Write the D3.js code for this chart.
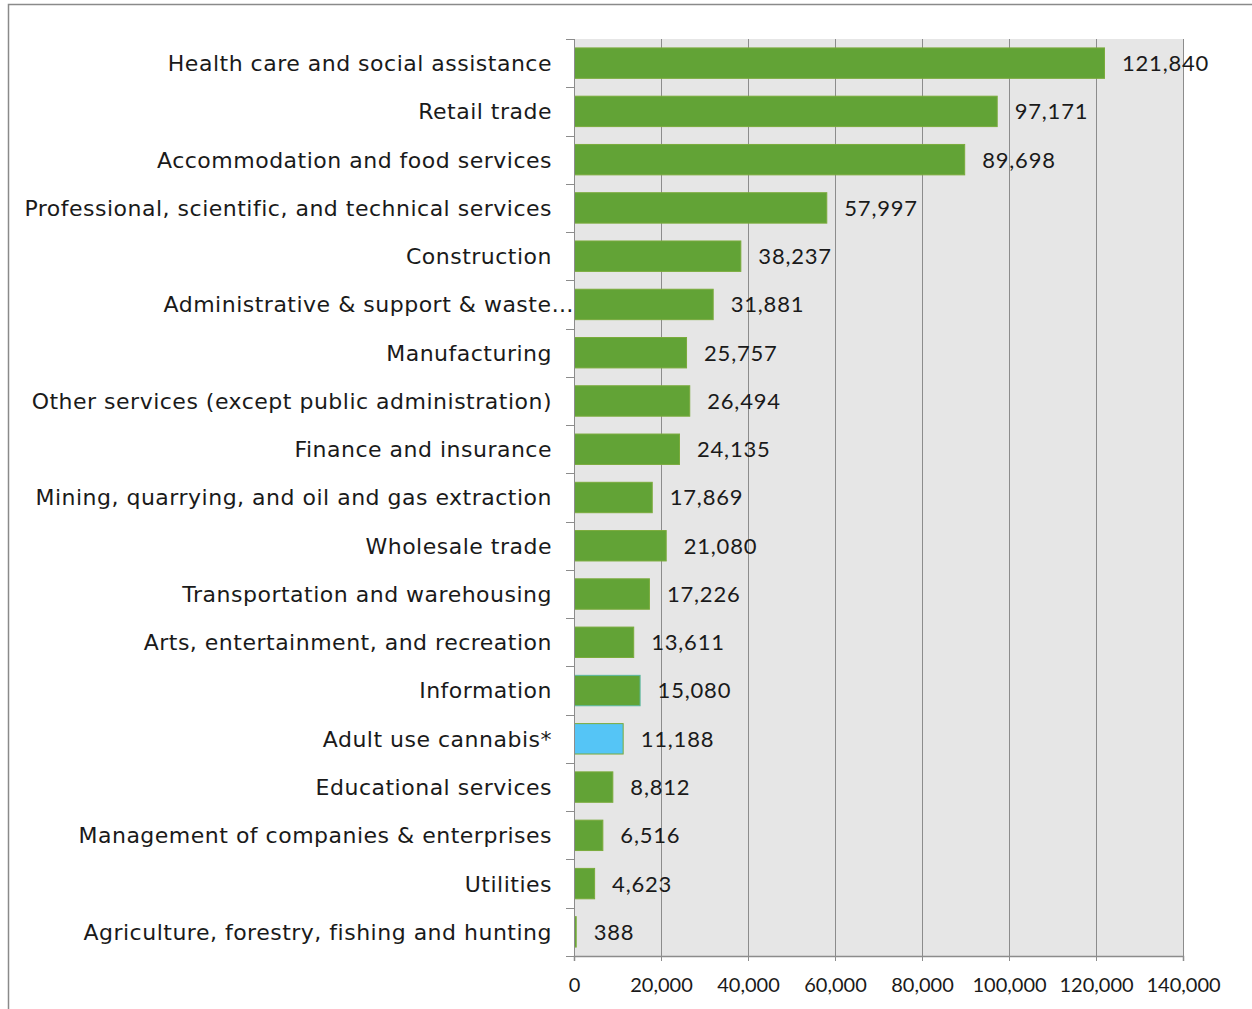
<!DOCTYPE html>
<html>
<head>
<meta charset="utf-8">
<script src="https://cdn.jsdelivr.net/npm/d3@7"></script>
<style>
  body { margin: 0; background: #fff; }
  svg text { font-family: "Lato", "DejaVu Sans", sans-serif; fill: #1a1a1a; }
  svg text.cat { font-family: "DejaVu Sans", sans-serif; }
</style>
</head>
<body>
<div id="chart"></div>
<script>
// frame and plot area
const FRAME_WIDTH = 1252;
const FRAME_HEIGHT = 1009;
const MARGINS = {left: 574, right: 69, top: 39, bottom: 53};
const VIS_WIDTH = FRAME_WIDTH - MARGINS.left - MARGINS.right;
const VIS_HEIGHT = FRAME_HEIGHT - MARGINS.top - MARGINS.bottom;

// data
const industries = [
  "Health care and social assistance",
  "Retail trade",
  "Accommodation and food services",
  "Professional, scientific, and technical services",
  "Construction",
  "Administrative & support & waste\u2026",
  "Manufacturing",
  "Other services (except public administration)",
  "Finance and insurance",
  "Mining, quarrying, and oil and gas extraction",
  "Wholesale trade",
  "Transportation and warehousing",
  "Arts, entertainment, and recreation",
  "Information",
  "Adult use cannabis*",
  "Educational services",
  "Management of companies & enterprises",
  "Utilities",
  "Agriculture, forestry, fishing and hunting"
];
const jobs = [121840, 97171, 89698, 57997, 38237, 31881, 25757, 26494, 24135,
  17869, 21080, 17226, 13611, 15080, 11188, 8812, 6516, 4623, 388];
const highlighted = ["Adult use cannabis*"];
const xTicks = [0, 20000, 40000, 60000, 80000, 100000, 120000, 140000];

const data = industries.map((d, i) => ({name: d, value: jobs[i]}));

const svg = d3.select("#chart")
  .append("svg")
  .attr("width", FRAME_WIDTH)
  .attr("height", FRAME_HEIGHT);

// outer chart border (top and left visible)
svg.append("path")
  .attr("d", "M8.5," + FRAME_HEIGHT + "V4.5H" + FRAME_WIDTH)
  .attr("fill", "none")
  .attr("stroke", "#8a8a8a")
  .attr("stroke-width", 1.5);

const xScale = d3.scaleLinear().domain([0, 140000]).range([0, VIS_WIDTH]);
const yScale = d3.scaleBand().domain(industries).range([0, VIS_HEIGHT]).paddingInner(0.37).paddingOuter(0.185);

const plot = svg.append("g")
  .attr("transform", "translate(" + MARGINS.left + "," + MARGINS.top + ")");

// plot background
plot.append("rect")
  .attr("width", VIS_WIDTH)
  .attr("height", VIS_HEIGHT)
  .attr("fill", "#e6e6e6");

// vertical gridlines
plot.selectAll(".grid")
  .data(xTicks.slice(1))
  .enter()
  .append("line")
  .attr("x1", d => Math.round(xScale(d)) + 0.5)
  .attr("x2", d => Math.round(xScale(d)) + 0.5)
  .attr("y1", 0)
  .attr("y2", VIS_HEIGHT)
  .attr("stroke", "#8c8c8c")
  .attr("stroke-width", 1);

// bars
plot.selectAll(".bar")
  .data(data)
  .enter()
  .append("rect")
  .attr("x", 0.5)
  .attr("y", d => yScale(d.name))
  .attr("width", d => xScale(d.value))
  .attr("height", yScale.bandwidth())
  .attr("fill", d => highlighted.includes(d.name) ? "#55c5f6" : "#62a336")
  .attr("stroke", d => d.name === "Information" ? "#5ab8a0" : "#7aab3c")
  .attr("stroke-width", 1);

// value labels
plot.selectAll(".val")
  .data(data)
  .enter()
  .append("text")
  .attr("x", d => xScale(d.value) + 18)
  .attr("y", d => yScale(d.name) + yScale.bandwidth() / 2)
  .attr("dy", "0.36em")
  .attr("font-size", 22)
  .attr("letter-spacing", 0.8)
  .text(d => d3.format(",")(d.value));

// y axis: category boundary ticks
const yAxis = plot.append("g");
yAxis.append("line")
  .attr("x1", 0.5).attr("x2", 0.5)
  .attr("y1", 0).attr("y2", VIS_HEIGHT)
  .attr("stroke", "#8c8c8c");
const step = VIS_HEIGHT / industries.length;
yAxis.selectAll(".ytick")
  .data(d3.range(industries.length + 1))
  .enter()
  .append("line")
  .attr("x1", -8).attr("x2", 0)
  .attr("y1", d => Math.round(d * step) + 0.5)
  .attr("y2", d => Math.round(d * step) + 0.5)
  .attr("stroke", "#8c8c8c");
yAxis.selectAll(".ylab")
  .data(industries)
  .enter()
  .append("text")
  .attr("class", "cat")
  // the truncated label runs past the others up to the axis
  .attr("x", d => d.endsWith("\u2026") ? 0 : -22)
  .attr("y", d => yScale(d) + yScale.bandwidth() / 2)
  .attr("dy", "0.36em")
  .attr("text-anchor", "end")
  .attr("font-size", 22)
  .attr("letter-spacing", 0.5)
  .text(d => d);

// x axis
const xAxis = plot.append("g")
  .attr("transform", "translate(0," + VIS_HEIGHT + ")")
  .call(d3.axisBottom(xScale).tickValues(xTicks).tickSize(5).tickPadding(17)
    .tickFormat(d3.format(",")));
xAxis.select(".domain").attr("stroke", "#8c8c8c").attr("stroke-width", 1.5);
xAxis.selectAll(".tick line").attr("stroke", "#8c8c8c");
xAxis.selectAll(".tick text").attr("font-size", 20).attr("fill", "#1a1a1a")
  .attr("font-family", "Lato, 'DejaVu Sans', sans-serif");
</script>
</body>
</html>
